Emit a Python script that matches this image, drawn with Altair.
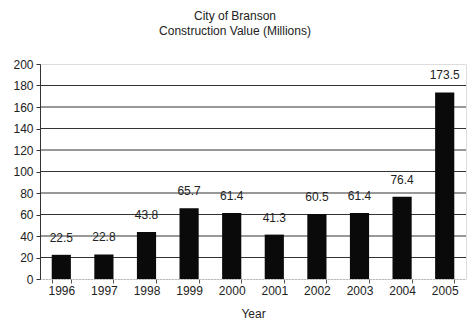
import altair as alt
import pandas as pd

years = ["1996", "1997", "1998", "1999", "2000", "2001", "2002", "2003", "2004", "2005"]
values = [22.5, 22.8, 43.8, 65.7, 61.4, 41.3, 60.5, 61.4, 76.4, 173.5]
y_ticks = [0, 20, 40, 60, 80, 100, 120, 140, 160, 180, 200]
grid_lines = [20, 40, 60, 80, 100, 120, 140, 160, 180]

df = pd.DataFrame({"Year": years, "Value": values})
grid_df = pd.DataFrame({"Value": grid_lines})
FONT = "Liberation Sans"

x = alt.X("Year:N", title="Year", sort=years,
          scale=alt.Scale(paddingInner=0.55, paddingOuter=0.275),
          axis=alt.Axis(labelAngle=0, tickBand="extent", tickSize=4, tickColor="#555",
                        domainColor="#999", domainDash=[1, 2], labelPadding=2, grid=False,
                        labelFont=FONT, labelFontSize=12, labelColor="#222",
                        titleFont=FONT, titleFontSize=12, titleColor="#222",
                        titleFontWeight="normal", titlePadding=12))
y_scale = alt.Scale(domain=[0, 200], nice=False)
y_axis = alt.Axis(values=y_ticks, tickCount=len(y_ticks), grid=False, tickSize=4,
                  tickColor="#333", domainColor="#333", labelOverlap=False,
                  labelFont=FONT, labelFontSize=12, labelColor="#222", labelPadding=3)
y = alt.Y("Value:Q", title=None, scale=y_scale, axis=y_axis)

grid = alt.Chart(grid_df).mark_rule(color="#333", strokeWidth=1).encode(y=y)
base = alt.Chart(df).encode(x=x, y=y)
bars = base.mark_bar(color="#0a0a0a")
labels = base.mark_text(dy=-17, font=FONT, fontSize=12, color="#222").encode(
    text=alt.Text("Value:Q", format=".1f"))

chart = (grid + bars + labels).properties(
    width=426, height=215,
    title=alt.TitleParams(["City of Branson", "Construction Value (Millions)"],
                          font=FONT, fontSize=12, fontWeight="normal", color="#222",
                          lineHeight=15, offset=20, dx=-18),
    autosize=alt.AutoSizeParams(type="none"),
    padding={"left": 40, "top": 64, "right": 6, "bottom": 56},
).configure_view(strokeWidth=0, stroke="transparent").configure_axis(
    grid=False
).configure(background="white")

chart.save("out.html", embed_options={"renderer": "svg", "actions": False})
